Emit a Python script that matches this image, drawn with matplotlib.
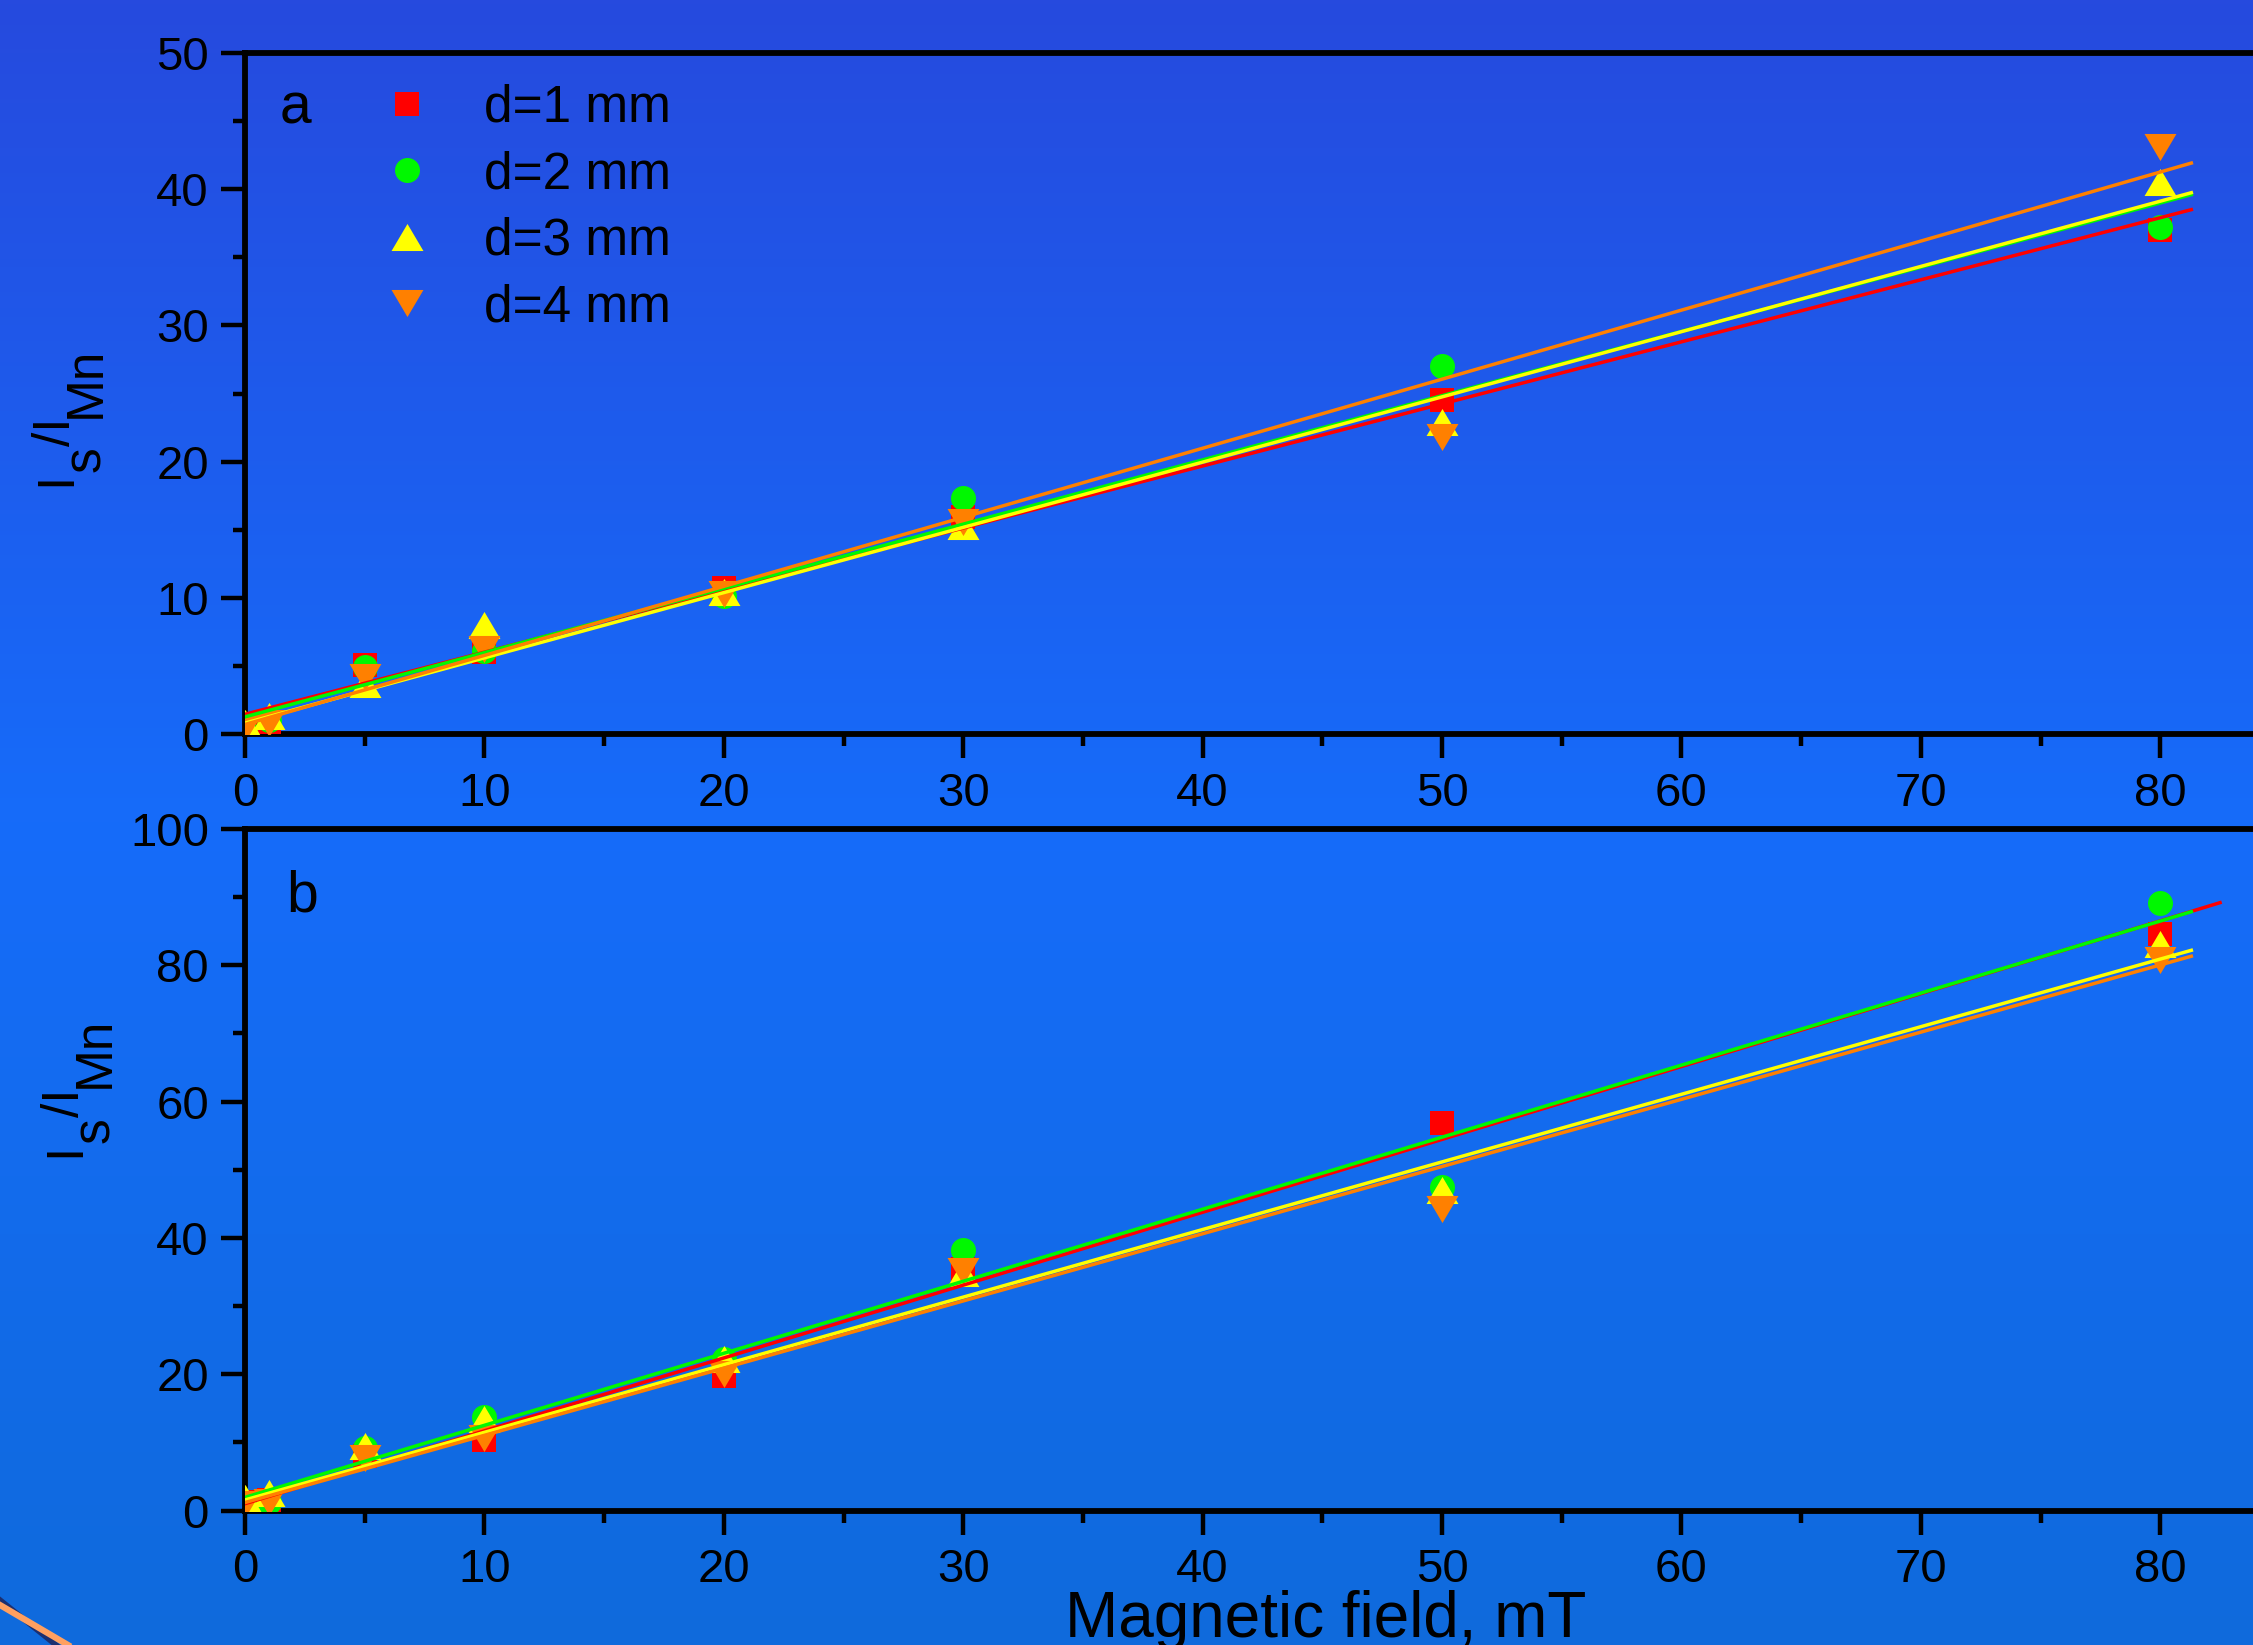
import numpy as np
import matplotlib
matplotlib.use('Agg')
import matplotlib.pyplot as plt
from matplotlib.lines import Line2D
from matplotlib.transforms import IdentityTransform

plt.rcParams['font.family'] = ['Liberation Sans', 'DejaVu Sans']

# Magnetic field values (mT)
field = [0, 1, 5, 10, 20, 30, 50, 80]

# Panel a: intensity ratio I_s/I_Mn for each gap d
ratio_a_d1 = [0.5, 0.9, 5.1, 6.05, 10.7, 15.9, 24.5, 37.0]
ratio_a_d2 = [0.3, 1.0, 4.9, 6.1, 10.1, 17.3, 27.0, 37.2]
ratio_a_d3 = [0.8, 1.3, 3.7, 8.0, 10.4, 15.25, 22.9, 40.5]
ratio_a_d4 = [0.45, 0.8, 4.2, 6.25, 10.3, 15.6, 21.8, 43.1]

# Panel b
ratio_b_d1 = [1.3, 1.5, 8.0, 10.4, 19.8, 35.5, 56.9, 84.6]
ratio_b_d2 = [1.0, 1.2, 9.1, 13.7, 22.3, 38.2, 47.4, 89.2]
ratio_b_d3 = [1.8, 2.6, 9.5, 13.4, 22.2, 34.8, 47.1, 83.1]
ratio_b_d4 = [1.0, 1.2, 7.65, 10.7, 20.0, 35.2, 44.3, 80.8]

# Linear fits: slope, intercept, end of fitted range
fit_a_slope = [0.4557, 0.4716, 0.479, 0.507]
fit_a_icpt = [1.45, 1.26, 0.80, 0.70]
fit_a_end = [81.3, 81.3, 81.3, 81.3]
fit_b_slope = [1.069, 1.057, 0.992, 0.986]
fit_b_icpt = [1.0, 1.93, 1.55, 1.17]
fit_b_end = [82.5, 81.3, 81.3, 81.3]

labels = ['d=1 mm', 'd=2 mm', 'd=3 mm', 'd=4 mm']
colors = ['#ff0000', '#00f800', '#ffff00', '#ff8000']

tri_up = [(-1.18, -1), (1.18, -1), (0, 1)]
tri_dn = [(-1.18, 1), (1.18, 1), (0, -1)]
markers = ['s', 'o', tri_up, tri_dn]
msizes = [17, 18, 23, 23]

W, H = 2253, 1645
fig = plt.figure(figsize=(W / 100, H / 100), dpi=100)

# blue slide background
bg = fig.add_axes([0, 0, 1, 1], zorder=-10)
ypos = np.linspace(0, 1, 400)
stops = [0.0, 0.5, 1.0]
cols = np.array([[38, 74, 222], [22, 108, 250], [15, 106, 220]]) / 255
grad = np.stack([np.interp(ypos, stops, cols[:, k]) for k in range(3)], axis=-1)
bg.imshow(grad[:, None, :], aspect='auto', extent=[0, 1, 1, 0])
bg.set_xlim(0, 1)
bg.set_ylim(1, 0)
bg.axis('off')

x0 = 245
px_per_mT = 23.94
x_right = x0 + 85 * px_per_mT


def make_axes(top_px, bottom_px):
    ax = fig.add_axes([x0 / W, 1 - bottom_px / H, (x_right - x0) / W,
                       (bottom_px - top_px) / H])
    ax.set_facecolor('none')
    ax.set_xlim(0, 85)
    for side in ['left', 'bottom', 'top']:
        ax.spines[side].set_linewidth(4.2)
    ax.spines['right'].set_visible(False)
    ax.tick_params(which='major', direction='out', length=17, width=3.2,
                   labelsize=34)
    ax.tick_params(which='minor', direction='out', length=8.5, width=3.2)
    ax.tick_params(axis='x', pad=10)
    ax.tick_params(axis='y', pad=9)
    ax.set_xticks(np.arange(0, 81, 10))
    ax.set_xticks(np.arange(5, 81, 10), minor=True)
    return ax


def draw_panel(ax, series, slopes, icpts, ends):
    for y, c, m, ms, lab in zip(series, colors, markers, msizes, labels):
        ax.plot(field, y, ls='none', marker=m, ms=ms, color=c, mec=c,
                mew=0, label=lab, zorder=3)
    for s, b, e, c in zip(slopes, icpts, ends, colors):
        xx = np.array([0, e])
        ax.plot(xx, s * xx + b, color=c, lw=2.5, zorder=4)


ax_a = make_axes(53, 734)
ax_a.set_ylim(0, 50)
ax_a.set_yticks(np.arange(0, 51, 10))
ax_a.set_yticks(np.arange(5, 50, 10), minor=True)
draw_panel(ax_a, [ratio_a_d1, ratio_a_d2, ratio_a_d3, ratio_a_d4],
           fit_a_slope, fit_a_icpt, fit_a_end)

ax_b = make_axes(829, 1510.5)
ax_b.set_ylim(0, 100)
ax_b.set_yticks(np.arange(0, 101, 20))
ax_b.set_yticks(np.arange(10, 100, 20), minor=True)
draw_panel(ax_b, [ratio_b_d1, ratio_b_d2, ratio_b_d3, ratio_b_d4],
           fit_b_slope, fit_b_icpt, fit_b_end)

fig.text(295 / W, 1 - 108 / H, 'a', fontsize=41, ha='center', va='center')
fig.text(302 / W, 1 - 896 / H, 'b', fontsize=41, ha='center', va='center')

ax_a.legend(loc='upper left', bbox_to_anchor=(381 / W, 1 - 84 / H),
            bbox_transform=fig.transFigure, frameon=False, fontsize=37,
            handlelength=1.0, handletextpad=1.0, labelspacing=0.34,
            borderpad=0, borderaxespad=0, numpoints=1)

fig.text(1326 / W, 1 - 1637 / H, 'Magnetic field, mT', fontsize=46,
         ha='center', va='baseline')


def draw_ylabel(x_base, y_start, size=37, sub_shift=30):
    # I_s/I_Mn with full-size, lowered subscripts
    renderer = fig.canvas.get_renderer()
    y = H - y_start
    for s, dx in [('I', 0), ('s', sub_shift), ('/I', 0), ('Mn', sub_shift)]:
        t = fig.text(x_base + dx, y, s, transform=IdentityTransform(),
                     rotation=90, rotation_mode='anchor', ha='left',
                     va='baseline', fontsize=size)
        y = t.get_window_extent(renderer).y1


draw_ylabel(70, 486)
draw_ylabel(79, 1157)

# orange stroke in the lower left corner
fig.add_artist(Line2D([0, 56 / W], [1 - 1600 / H, 0], transform=fig.transFigure,
                      color='#1c2f70', lw=4))
fig.add_artist(Line2D([0, 68 / W], [1 - 1605 / H, 0], transform=fig.transFigure,
                      color='#ffa060', lw=4.5))

fig.savefig('out.png', dpi=100)
